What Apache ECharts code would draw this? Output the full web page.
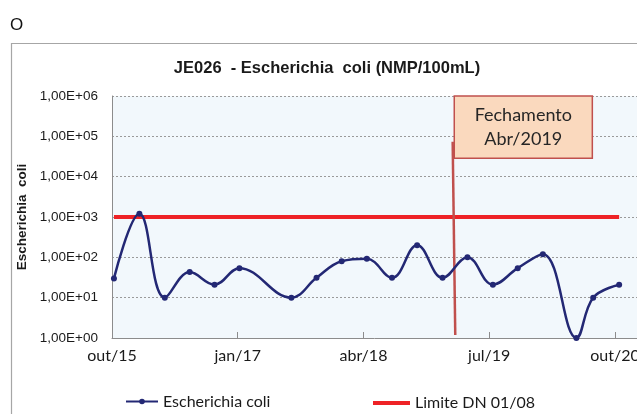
<!DOCTYPE html>
<html>
<head>
<meta charset="utf-8">
<script src="https://cdn.jsdelivr.net/npm/echarts@6/dist/echarts.min.js"></script>
<style>
  html, body { margin: 0; padding: 0; background: #fff; }
  #chart { width: 637px; height: 414px; }
</style>
</head>
<body>
<div id="chart"></div>
<script>
// Sampling dates at station JE026 and measured E. coli (NMP/100mL)
const sampleDates = [
  '2015-10-08', '2016-01-09', '2016-04-10', '2016-07-09', '2016-10-08',
  '2017-01-07', '2017-07-13', '2017-10-13', '2018-01-13', '2018-04-13',
  '2018-07-13', '2018-10-13', '2019-01-14', '2019-04-13', '2019-07-14',
  '2019-10-13', '2020-01-13', '2020-05-13', '2020-07-13', '2020-10-16'
];
const ecoliValues = [
  30, 1200, 10, 43, 21,
  54, 10, 31, 80, 92,
  31, 200, 31, 100, 21,
  54, 120, 1, 10, 21
];
// Legal limit (DN 01/08)
const limitValue = 1000;

// Closure marker (months since out/15, NMP/100mL)
const closureLineX = [40.64, 40.95];
const closureLineY = [73000, 1.19];
const closureBoxX = [40.83, 57.3];
const closureBoxY = [28560, 1000000];
const closureText = ['Fechamento', 'Abr/2019'];

// Axis tick labels
const xTickLabels = ['out/15', 'jan/17', 'abr/18', 'jul/19', 'out/20'];
const yTickLabels = ['1,00E+00', '1,00E+01', '1,00E+02', '1,00E+03', '1,00E+04', '1,00E+05', '1,00E+06'];

// Months elapsed since 1 Oct 2015
function monthOffset(dateStr) {
  const [y, m, d] = dateStr.split('-').map(Number);
  return (y - 2015) * 12 + (m - 10) + (d - 1) / 30;
}

const ecoliData = sampleDates.map((d, i) => [monthOffset(d), ecoliValues[i]]);
const limitData = sampleDates.map(d => [monthOffset(d), limitValue]);
const closureData = closureLineX.map((x, i) => [x, closureLineY[i]]);

const chart = echarts.init(document.getElementById('chart'), null, { renderer: 'canvas' });

const calibriLike = 'Lato, "Open Sans", sans-serif';
const arialLike = '"Liberation Sans", Arial, sans-serif';

chart.setOption({
  animation: false,
  backgroundColor: '#ffffff',
  graphic: [
    {
      type: 'text', left: 10, top: 17,
      style: { text: 'O', font: '17px ' + arialLike, fill: '#111' }
    },
    {
      type: 'rect', z: 100, silent: true,
      shape: { x: 11.5, y: 43.5, width: 700, height: 500 },
      style: { fill: 'none', stroke: '#a6a6a6', lineWidth: 1.2 }
    },
    {
      type: 'text', x: 327, y: 68, z: 100,
      style: {
        text: 'JE026  - Escherichia  coli (NMP/100mL)',
        font: 'bold 16.5px ' + arialLike, fill: '#1a1a1a',
        textAlign: 'center', textVerticalAlign: 'middle'
      }
    }
  ],
  grid: {
    left: 112, top: 96, bottom: 76, right: 0,
    outerBoundsMode: 'none', containLabel: false,
    show: true, backgroundColor: '#f2f8fc', borderWidth: 0
  },
  legend: [
    {
      data: ['Escherichia coli'], left: 120, top: 388.5,
      itemWidth: 32, itemHeight: 7, itemGap: 0,
      textStyle: { fontFamily: calibriLike, fontSize: 16, color: '#1a1a1a' }
    },
    {
      data: [{ name: 'Limite DN 01/08', icon: 'rect' }], left: 368, top: 390,
      itemWidth: 37, itemHeight: 4, itemGap: 0,
      textStyle: { fontFamily: calibriLike, fontSize: 16, color: '#1a1a1a' }
    }
  ],
  xAxis: {
    type: 'value', min: 0, max: 62.63, interval: 15,
    axisLine: { show: true, lineStyle: { color: '#8c8c8c', width: 1 } },
    axisTick: { show: true, inside: true, length: 6, lineStyle: { color: '#8c8c8c' } },
    splitLine: { show: false },
    axisLabel: {
      margin: 10, showMaxLabel: false,
      fontFamily: calibriLike, fontSize: 16, color: '#1a1a1a',
      formatter: v => (v % 15 === 0 && xTickLabels[v / 15]) ? xTickLabels[v / 15] : ''
    }
  },
  yAxis: {
    type: 'log', logBase: 10, min: 1, max: 1000000,
    name: 'Escherichia  coli', nameLocation: 'middle', nameGap: 80,
    nameTextStyle: { fontFamily: arialLike, fontWeight: 'bold', fontSize: 13.5, color: '#1a1a1a' },
    axisLine: { show: true, lineStyle: { color: '#8c8c8c', width: 1 } },
    axisTick: { show: false },
    splitLine: { show: true, lineStyle: { type: [2, 2], color: '#9a9a9a', width: 1 } },
    axisLabel: {
      margin: 14, fontFamily: arialLike, fontSize: 13.5, color: '#1a1a1a',
      formatter: v => yTickLabels[Math.round(Math.log10(v))]
    }
  },
  series: [
    {
      name: 'Limite DN 01/08', type: 'line', data: limitData,
      symbol: 'none', smooth: false, z: 2,
      lineStyle: { color: '#ee2226', width: 4 },
      itemStyle: { color: '#ee2226' }
    },
    {
      name: 'Fechamento', type: 'line', data: closureData,
      symbol: 'none', smooth: false, z: 3, silent: true,
      lineStyle: { color: '#c0504d', width: 2.5 },
      markArea: {
        silent: true,
        itemStyle: { color: '#fad9be', borderColor: '#c0504d', borderWidth: 1.5, opacity: 1 },
        label: {
          show: true, position: 'inside',
          formatter: closureText.join('\n'),
          fontFamily: calibriLike, fontSize: 18, lineHeight: 24, color: '#262626'
        },
        data: [[
          { xAxis: closureBoxX[0], yAxis: closureBoxY[0] },
          { xAxis: closureBoxX[1], yAxis: closureBoxY[1] }
        ]]
      }
    },
    {
      name: 'Escherichia coli', type: 'line', data: ecoliData,
      smooth: 0.4, z: 4,
      symbol: 'circle', symbolSize: 6,
      lineStyle: { color: '#232874', width: 2.5 },
      itemStyle: { color: '#232874' }
    }
  ]
});
</script>
</body>
</html>
